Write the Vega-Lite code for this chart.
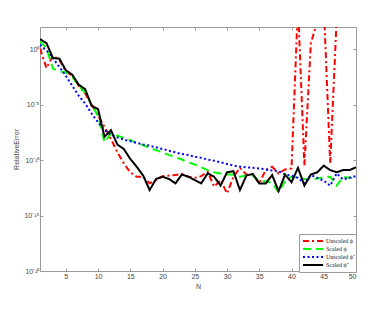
{
  "$schema": "https://vega.github.io/schema/vega-lite/v6.json",
  "width": 316,
  "height": 244,
  "autosize": "none",
  "padding": {"left": 40, "top": 27, "right": 27, "bottom": 38},
  "background": "white",
  "config": {
    "view": {"stroke": null},
    "axis": {
      "grid": false,
      "labelFont": "Liberation Sans",
      "titleFont": "Liberation Sans",
      "labelColor": "#444444",
      "titleColor": "#444444",
      "domainColor": "#9a9a9a",
      "tickColor": "#9a9a9a",
      "labelFontSize": 7,
      "titleFontSize": 7,
      "titleFontWeight": "normal",
      "tickSize": -3
    }
  },
  "data": {
    "values": [
      {"N": 1, "u": 1.122, "s": 5.012, "ut": 2.512, "st": 7.943},
      {"N": 2, "u": 1.995e-2, "s": 1.259, "ut": 7.943e-1, "st": 3.548},
      {"N": 3, "u": 2.512e-1, "s": 1.778e-2, "ut": 1.585e-1, "st": 1.585e-1},
      {"N": 4, "u": 1.122e-1, "s": 1e-2, "ut": 2.512e-2, "st": 1.413e-1},
      {"N": 5, "u": 1e-2, "s": 7.943e-3, "ut": 3.981e-3, "st": 1.259e-2},
      {"N": 6, "u": 3.981e-3, "s": 3.162e-3, "ut": 5.012e-4, "st": 5.012e-3},
      {"N": 7, "u": 5.012e-4, "s": 5.012e-4, "ut": 6.31e-5, "st": 6.31e-4},
      {"N": 8, "u": 1e-4, "s": 1.259e-4, "ut": 1.259e-5, "st": 2.512e-4},
      {"N": 9, "u": 1e-5, "s": 1e-5, "ut": 1.585e-6, "st": 7.943e-6},
      {"N": 10, "u": 1e-6, "s": 1e-6, "ut": 2.512e-7, "st": 3.981e-6},
      {"N": 11, "u": 1e-7, "s": 3.981e-9, "ut": 5.012e-8, "st": 1.259e-8},
      {"N": 12, "u": 7.943e-9, "s": 2.512e-8, "ut": 1.995e-8, "st": 5.012e-8},
      {"N": 13, "u": 5.012e-10, "s": 1.585e-8, "ut": 1.122e-8, "st": 2.512e-9},
      {"N": 14, "u": 5.012e-11, "s": 1e-8, "ut": 7.079e-9, "st": 1e-9},
      {"N": 15, "u": 7.943e-12, "s": 6.31e-9, "ut": 5.012e-9, "st": 1.259e-10},
      {"N": 16, "u": 3.162e-12, "s": 3.548e-9, "ut": 3.548e-9, "st": 2.512e-11},
      {"N": 17, "u": 3.162e-12, "s": 2.239e-9, "ut": 2.512e-9, "st": 3.981e-12},
      {"N": 18, "u": 7.943e-13, "s": 1.259e-9, "ut": 1.995e-9, "st": 1.995e-13},
      {"N": 19, "u": 1.585e-12, "s": 7.943e-10, "ut": 1.413e-9, "st": 1.995e-12},
      {"N": 20, "u": 3.548e-12, "s": 5.012e-10, "ut": 1e-9, "st": 3.162e-12},
      {"N": 21, "u": 3.981e-12, "s": 2.818e-10, "ut": 7.079e-10, "st": 1.995e-12},
      {"N": 22, "u": 4.467e-12, "s": 1.778e-10, "ut": 5.012e-10, "st": 7.943e-13},
      {"N": 23, "u": 5.623e-12, "s": 1.122e-10, "ut": 3.548e-10, "st": 5.012e-12},
      {"N": 24, "u": 3.162e-12, "s": 6.31e-11, "ut": 2.818e-10, "st": 3.162e-12},
      {"N": 25, "u": 2.512e-12, "s": 3.981e-11, "ut": 1.995e-10, "st": 1.585e-12},
      {"N": 26, "u": 3.548e-12, "s": 2.239e-11, "ut": 1.585e-10, "st": 7.943e-13},
      {"N": 27, "u": 8.913e-12, "s": 1.259e-11, "ut": 1.122e-10, "st": 6.31e-12},
      {"N": 28, "u": 3.981e-13, "s": 7.943e-12, "ut": 8.913e-11, "st": 3.162e-12},
      {"N": 29, "u": 1.585e-12, "s": 6.31e-12, "ut": 6.31e-11, "st": 5.012e-13},
      {"N": 30, "u": 1e-13, "s": 5.012e-12, "ut": 4.467e-11, "st": 7.943e-12},
      {"N": 31, "u": 3.162e-12, "s": 5.012e-12, "ut": 3.162e-11, "st": 1e-11},
      {"N": 32, "u": 1.995e-11, "s": 3.162e-12, "ut": 2.512e-11, "st": 1.995e-13},
      {"N": 33, "u": 5.012e-12, "s": 3.981e-12, "ut": 2.239e-11, "st": 3.981e-12},
      {"N": 34, "u": 5.012e-12, "s": 3.981e-12, "ut": 1.995e-11, "st": 5.623e-12},
      {"N": 35, "u": 7.943e-13, "s": 1.259e-12, "ut": 1.778e-11, "st": 7.943e-13},
      {"N": 36, "u": 1.259e-11, "s": 1.259e-12, "ut": 1.413e-11, "st": 7.943e-13},
      {"N": 37, "u": 2.512e-11, "s": 8.913e-13, "ut": 1.122e-11, "st": 4.467e-12},
      {"N": 38, "u": 6.31e-12, "s": 1.259e-13, "ut": 1e-11, "st": 1.585e-13},
      {"N": 39, "u": 1.413e-11, "s": 1.259e-12, "ut": 5.012e-12, "st": 5.012e-12},
      {"N": 40, "u": 1.778e-11, "s": 3.162e-12, "ut": 3.981e-12, "st": 1e-12},
      {"N": 41, "u": 1e4, "s": 2.512e-12, "ut": 2.512e-12, "st": 1.995e-11},
      {"N": 42, "u": 3.162e-11, "s": 1.995e-12, "ut": 7.943e-13, "st": 5.012e-13},
      {"N": 43, "u": 3.548, "s": 1.778e-12, "ut": 4.467e-12, "st": 5.012e-12},
      {"N": 44, "u": 316.2, "s": 2.239e-12, "ut": 2.512e-12, "st": 7.943e-12},
      {"N": 45, "u": 1e4, "s": 2.818e-12, "ut": 1.413e-12, "st": 3.162e-11},
      {"N": 46, "u": 5.012e-11, "s": 3.162e-12, "ut": 5.012e-13, "st": 1.259e-11},
      {"N": 47, "u": 500, "s": 5.012e-13, "ut": 6.31e-12, "st": 7.943e-12},
      {"N": 48, "u": 1e4, "s": 3.162e-12, "ut": 1.778e-12, "st": 1.259e-11},
      {"N": 49, "u": 1e4, "s": 2.512e-12, "ut": 2.512e-12, "st": 1.259e-11},
      {"N": 50, "u": 1e4, "s": 2.512e-12, "ut": 3.548e-12, "st": 2.239e-11}
    ]
  },
  "transform": [{"fold": ["u", "s", "ut", "st"], "as": ["series", "err"]}],
  "resolve": {"axis": {"x": "independent", "y": "independent"}},
  "layer": [
    {
      "mark": {"type": "line", "clip": true, "strokeWidth": 2},
      "encoding": {
        "x": {
          "field": "N", "type": "quantitative",
          "scale": {"domain": [1, 50], "nice": false, "zero": false},
          "axis": {"orient": "bottom", "values": [5, 10, 15, 20, 25, 30, 35, 40, 45, 50], "title": "N", "labelPadding": 4, "titlePadding": 3, "titleColor": "#444444", "labelColor": "#444444"}
        },
        "y": {
          "field": "err", "type": "quantitative",
          "scale": {"type": "log", "domain": [1e-20, 100], "nice": false},
          "axis": {
            "orient": "left",
            "values": [1e-20, 1e-15, 1e-10, 1e-5, 1],
            "title": "RelativeError",
            "titleColor": "#444444",
            "labelColor": "#444444",
            "labelPadding": 4,
            "titlePadding": 4,
            "labelExpr": "datum.value >= 0.5 ? '10⁰' : datum.value >= 1e-6 ? '10⁻⁵' : datum.value >= 1e-11 ? '10⁻¹⁰' : datum.value >= 1e-16 ? '10⁻¹⁵' : '10⁻²⁰'"
          }
        },
        "color": {
          "field": "series", "type": "nominal",
          "scale": {"domain": ["u", "s", "ut", "st"], "range": ["#ff0000", "#00ff00", "#0000ff", "#000000"]},
          "legend": {
            "title": null,
            "orient": "none",
            "legendX": 259,
            "legendY": 207,
            "labelExpr": "datum.value == 'u' ? 'Unscaled ϕ' : datum.value == 's' ? 'Scaled ϕ' : datum.value == 'ut' ? 'Unscaled ϕ̃' : 'Scaled ϕ̃'",
            "symbolType": "M-1,0H5.7",
            "symbolSize": 36,
            "symbolStrokeWidth": 2,
            "labelFont": "Liberation Serif",
            "labelFontSize": 6,
            "labelColor": "#222222",
            "labelOffset": 16,
            "rowPadding": 0,
            "padding": 3,
            "fillColor": "white",
            "strokeColor": "#9a9a9a"
          }
        },
        "strokeDash": {
          "field": "series", "type": "nominal",
          "scale": {"domain": ["u", "s", "ut", "st"], "range": [[6, 3, 2, 3], [8, 5], [2, 2.5], [1, 0]]},
          "legend": null
        }
      }
    },
    {
      "mark": {"type": "point", "opacity": 0},
      "encoding": {
        "x": {"field": "N", "type": "quantitative", "axis": {"orient": "top", "values": [5, 10, 15, 20, 25, 30, 35, 40, 45, 50], "labels": false, "title": null}},
        "y": {"field": "err", "type": "quantitative", "axis": {"orient": "right", "values": [1e-20, 1e-15, 1e-10, 1e-5, 1], "labels": false, "title": null}}
      }
    }
  ]
}
